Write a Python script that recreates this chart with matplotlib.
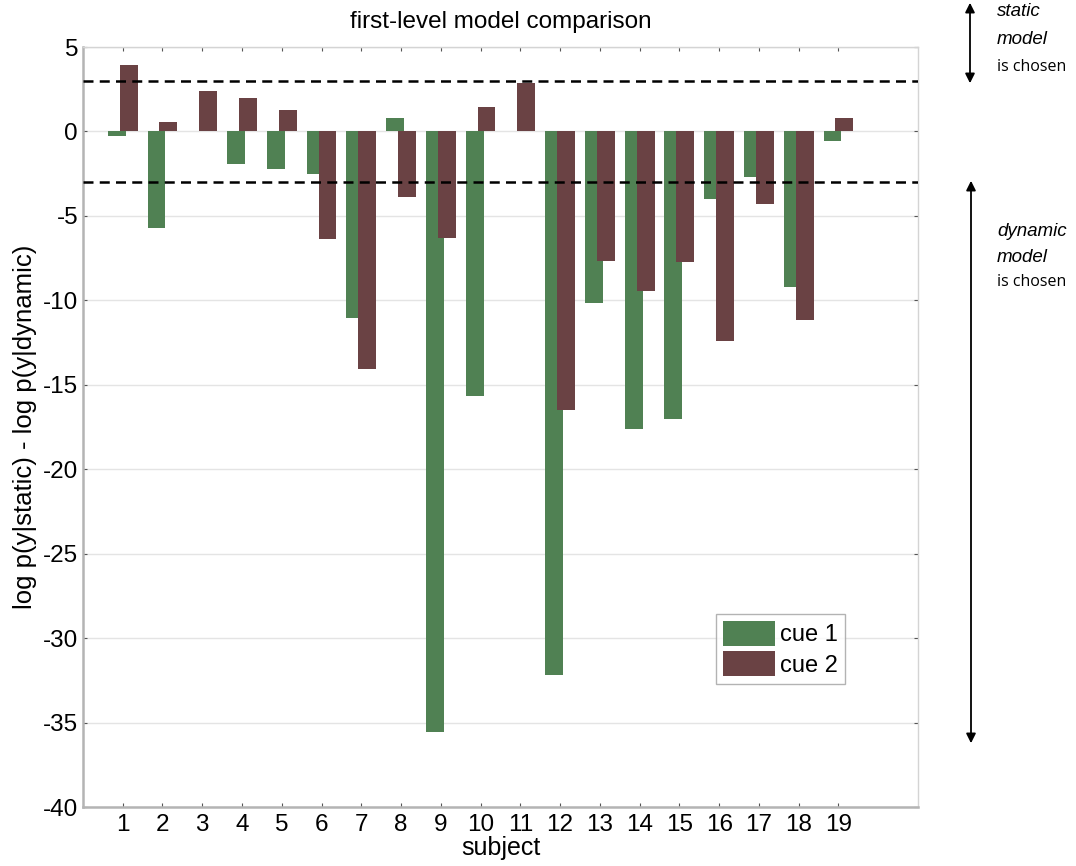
import matplotlib
matplotlib.use("Agg")
import matplotlib.pyplot as plt
import numpy as np

plt.rcParams['font.family'] = ['Liberation Sans', 'DejaVu Sans']
plt.rcParams['axes.unicode_minus'] = False

subjects = list(range(1, 20))
cue1 = [-0.28, -5.69, 0.02, -1.93, -2.25, -2.54, -11.05, 0.80, -35.55,
        -15.65, 0.02, -32.2, -10.14, -17.63, -17.04, -4.0, -2.70, -9.21, -0.54]
cue2 = [3.92, 0.58, 2.37, 1.97, 1.25, -6.38, -14.07, -3.88, -6.30,
        1.47, 2.86, -16.48, -7.65, -9.43, -7.75, -12.39, -4.27, -11.15, 0.80]
threshold = 3
yticks = [5, 0, -5, -10, -15, -20, -25, -30, -35, -40]

green = '#508153'
maroon = '#6a4244'

fig = plt.figure(figsize=(10.76, 8.66), dpi=100)
ax = fig.add_axes([0.0771, 0.0681, 0.776, 0.8776])

x = np.array(subjects)
ax.bar(x - 0.15, cue1, width=0.45, color=green, label='cue 1', zorder=2)
ax.bar(x + 0.15, cue2, width=0.45, color=maroon, label='cue 2', zorder=3)

ax.axhline(threshold, color='black', ls=(0, (4, 2.5)), lw=1.8, zorder=4)
ax.axhline(-threshold, color='black', ls=(0, (4, 2.5)), lw=1.8, zorder=4)

ax.set_xlim(0, 21)
ax.set_ylim(-40, 5)
ax.set_xticks(subjects)
ax.set_yticks(yticks)
ax.tick_params(axis='both', labelsize=17.5, direction='in', length=3,
               color='#555555', top=True, right=True)
ax.tick_params(axis='x', pad=5)
ax.grid(axis='y', color='#e4e4e4', lw=1, zorder=0)
ax.set_axisbelow(True)

for s in ['left', 'bottom']:
    ax.spines[s].set_color('#b4b4b4')
    ax.spines[s].set_linewidth(1.8)
for s in ['top', 'right']:
    ax.spines[s].set_color('#d4d4d4')
    ax.spines[s].set_linewidth(1.0)

ax.set_title('first-level model comparison', fontsize=17.5, pad=14)
ax.set_xlabel('subject', fontsize=18, labelpad=0)
ax.set_ylabel('log p(y|static) - log p(y|dynamic)', fontsize=18.5, labelpad=4)

leg = ax.legend(loc='upper left', bbox_to_anchor=(0.758, 0.254), fontsize=17,
                fancybox=False, edgecolor='#a0a0a0', handlelength=2.2,
                handleheight=1.25, handletextpad=0.2, borderpad=0.3,
                labelspacing=0.2, borderaxespad=0)
leg.get_frame().set_linewidth(1.0)

# side annotations
arrow_kw = dict(arrowstyle='<|-|>', color='black', lw=1.3, mutation_scale=14)
ax.annotate('', xy=(970 / 1076, 1.0), xytext=(970 / 1076, 1 - 86 / 866),
            xycoords='figure fraction', arrowprops=arrow_kw)
ax.annotate('', xy=(971 / 1076, 1 - 178 / 866), xytext=(971 / 1076, 1 - 746 / 866),
            xycoords='figure fraction', arrowprops=arrow_kw)

side_font = ['Open Sans', 'DejaVu Sans']
tx = 997 / 1076
fig.text(tx, 1 - 12 / 866, 'static', fontsize=13.5, style='italic', va='center')
fig.text(tx, 1 - 40 / 866, 'model', fontsize=13.5, style='italic', va='center')
fig.text(tx, 1 - 67 / 866, 'is chosen', fontsize=11.5, family=side_font, va='center')
fig.text(tx, 1 - 231 / 866, 'dynamic', fontsize=13.5, style='italic', va='center')
fig.text(tx, 1 - 258 / 866, 'model', fontsize=13.5, style='italic', va='center')
fig.text(tx, 1 - 282 / 866, 'is chosen', fontsize=11.5, family=side_font, va='center')

fig.savefig('out.png', dpi=100)
